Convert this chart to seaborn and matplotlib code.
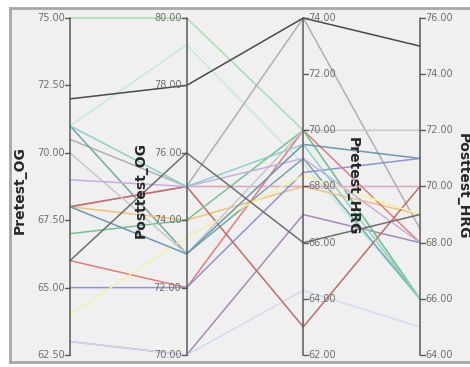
import matplotlib
matplotlib.use('Agg')
import matplotlib.pyplot as plt
import seaborn as sns
import pandas as pd
import numpy as np

# one row per case
pretest_og = [75, 71, 70.5, 71, 68, 68, 66, 65, 63, 63, 68, 67, 64, 70, 69, 68, 71, 66, 72]
posttest_og = [80, 79.2, 75, 73, 75, 74, 72, 72, 70, 70, 75, 74, 73.5, 73, 75, 73, 75, 76, 78]
pretest_hrg = [70, 68.8, 74, 69, 68, 68, 70, 68.5, 67, 64.3, 63, 70, 68.4, 70, 69, 69.5, 69.5, 66, 74]
posttest_hrg = [66, 66, 68.5, 66, 70, 69, 68, 71, 68, 65, 70, 66, 69, 72, 68, 71, 66, 69, 75]
line_colors = ['#a6dfb2', '#c5e8e4', '#b0b0b0', '#72a9a6', '#dba3c4', '#f2c27a', '#e27b7b',
               '#8e95d4', '#a88ab8', '#cfdcf0', '#c46a6a', '#74c38f', '#f3f0a8', '#c8c8c8',
               '#c9aee0', '#6e98b0', '#8fcfcf', '#6e6e6e', '#4a4a4a']

variables = ['Pretest_OG', 'Posttest_OG', 'Pretest_HRG', 'Posttest_HRG']
ranges = {'Pretest_OG': (62.5, 75, 2.5), 'Posttest_OG': (70, 80, 2),
          'Pretest_HRG': (62, 74, 2), 'Posttest_HRG': (64, 76, 2)}

df = pd.DataFrame({'Pretest_OG': pretest_og, 'Posttest_OG': posttest_og,
                   'Pretest_HRG': pretest_hrg, 'Posttest_HRG': posttest_hrg})
df['case'] = np.arange(len(df))
long = df.melt(id_vars='case', var_name='variable', value_name='value')
long['pos'] = long['variable'].map({v: i for i, v in enumerate(variables)})
lo = long['variable'].map(lambda v: ranges[v][0])
hi = long['variable'].map(lambda v: ranges[v][1])
long['scaled'] = (long['value'] - lo) / (hi - lo)

sns.set_style('white')
fig = plt.figure(figsize=(4.70, 3.67), dpi=100)
ax = fig.add_axes([10 / 470, 5 / 367, 470 / 470, 354 / 367])
ax.set_facecolor('#f0f0f0')
for s in ax.spines.values():
    s.set_color('#a8a8a8')
    s.set_linewidth(2)

sns.lineplot(data=long, x='pos', y='scaled', hue='case', palette=line_colors,
             estimator=None, sort=False, legend=False, linewidth=1.1, ax=ax)

ax.set_xlim(-0.514, 3.429 + 10 / 460 * 3.943)
ax.set_ylim(-0.0208, 1.0297)
ax.set_xticks([])
ax.set_yticks([])
ax.set_xlabel('')
ax.set_ylabel('')

tick_len = 0.04
for i, v in enumerate(variables):
    lo_v, hi_v, step = ranges[v]
    ax.plot([i, i], [0, 1], color='#5a5a5a', lw=1.1, zorder=5)
    side = -1 if i < 2 else 1
    for t in np.arange(lo_v, hi_v + step / 2, step):
        y = (t - lo_v) / (hi_v - lo_v)
        ax.plot([i, i + side * tick_len], [y, y], color='#5a5a5a', lw=1.0, zorder=5)
        ax.text(i + side * (tick_len + 0.005), y, f'{t:.2f}', fontsize=7, color='#707070',
                ha='right' if side < 0 else 'left', va='center', zorder=6)

ax.text(-0.43, 0.49, 'Pretest_OG', rotation=90, fontsize=10, fontweight='bold',
        ha='center', va='center')
ax.text(0.61, 0.49, 'Posttest_OG', rotation=90, fontsize=10, fontweight='bold',
        ha='center', va='center')
ax.text(2.42, 0.5, 'Pretest_HRG', rotation=-90, fontsize=10, fontweight='bold',
        ha='center', va='center')
ax.text(3.37, 0.5, 'Posttest_HRG', rotation=-90, fontsize=10, fontweight='bold',
        ha='center', va='center')

fig.savefig('out.png', dpi=100)
